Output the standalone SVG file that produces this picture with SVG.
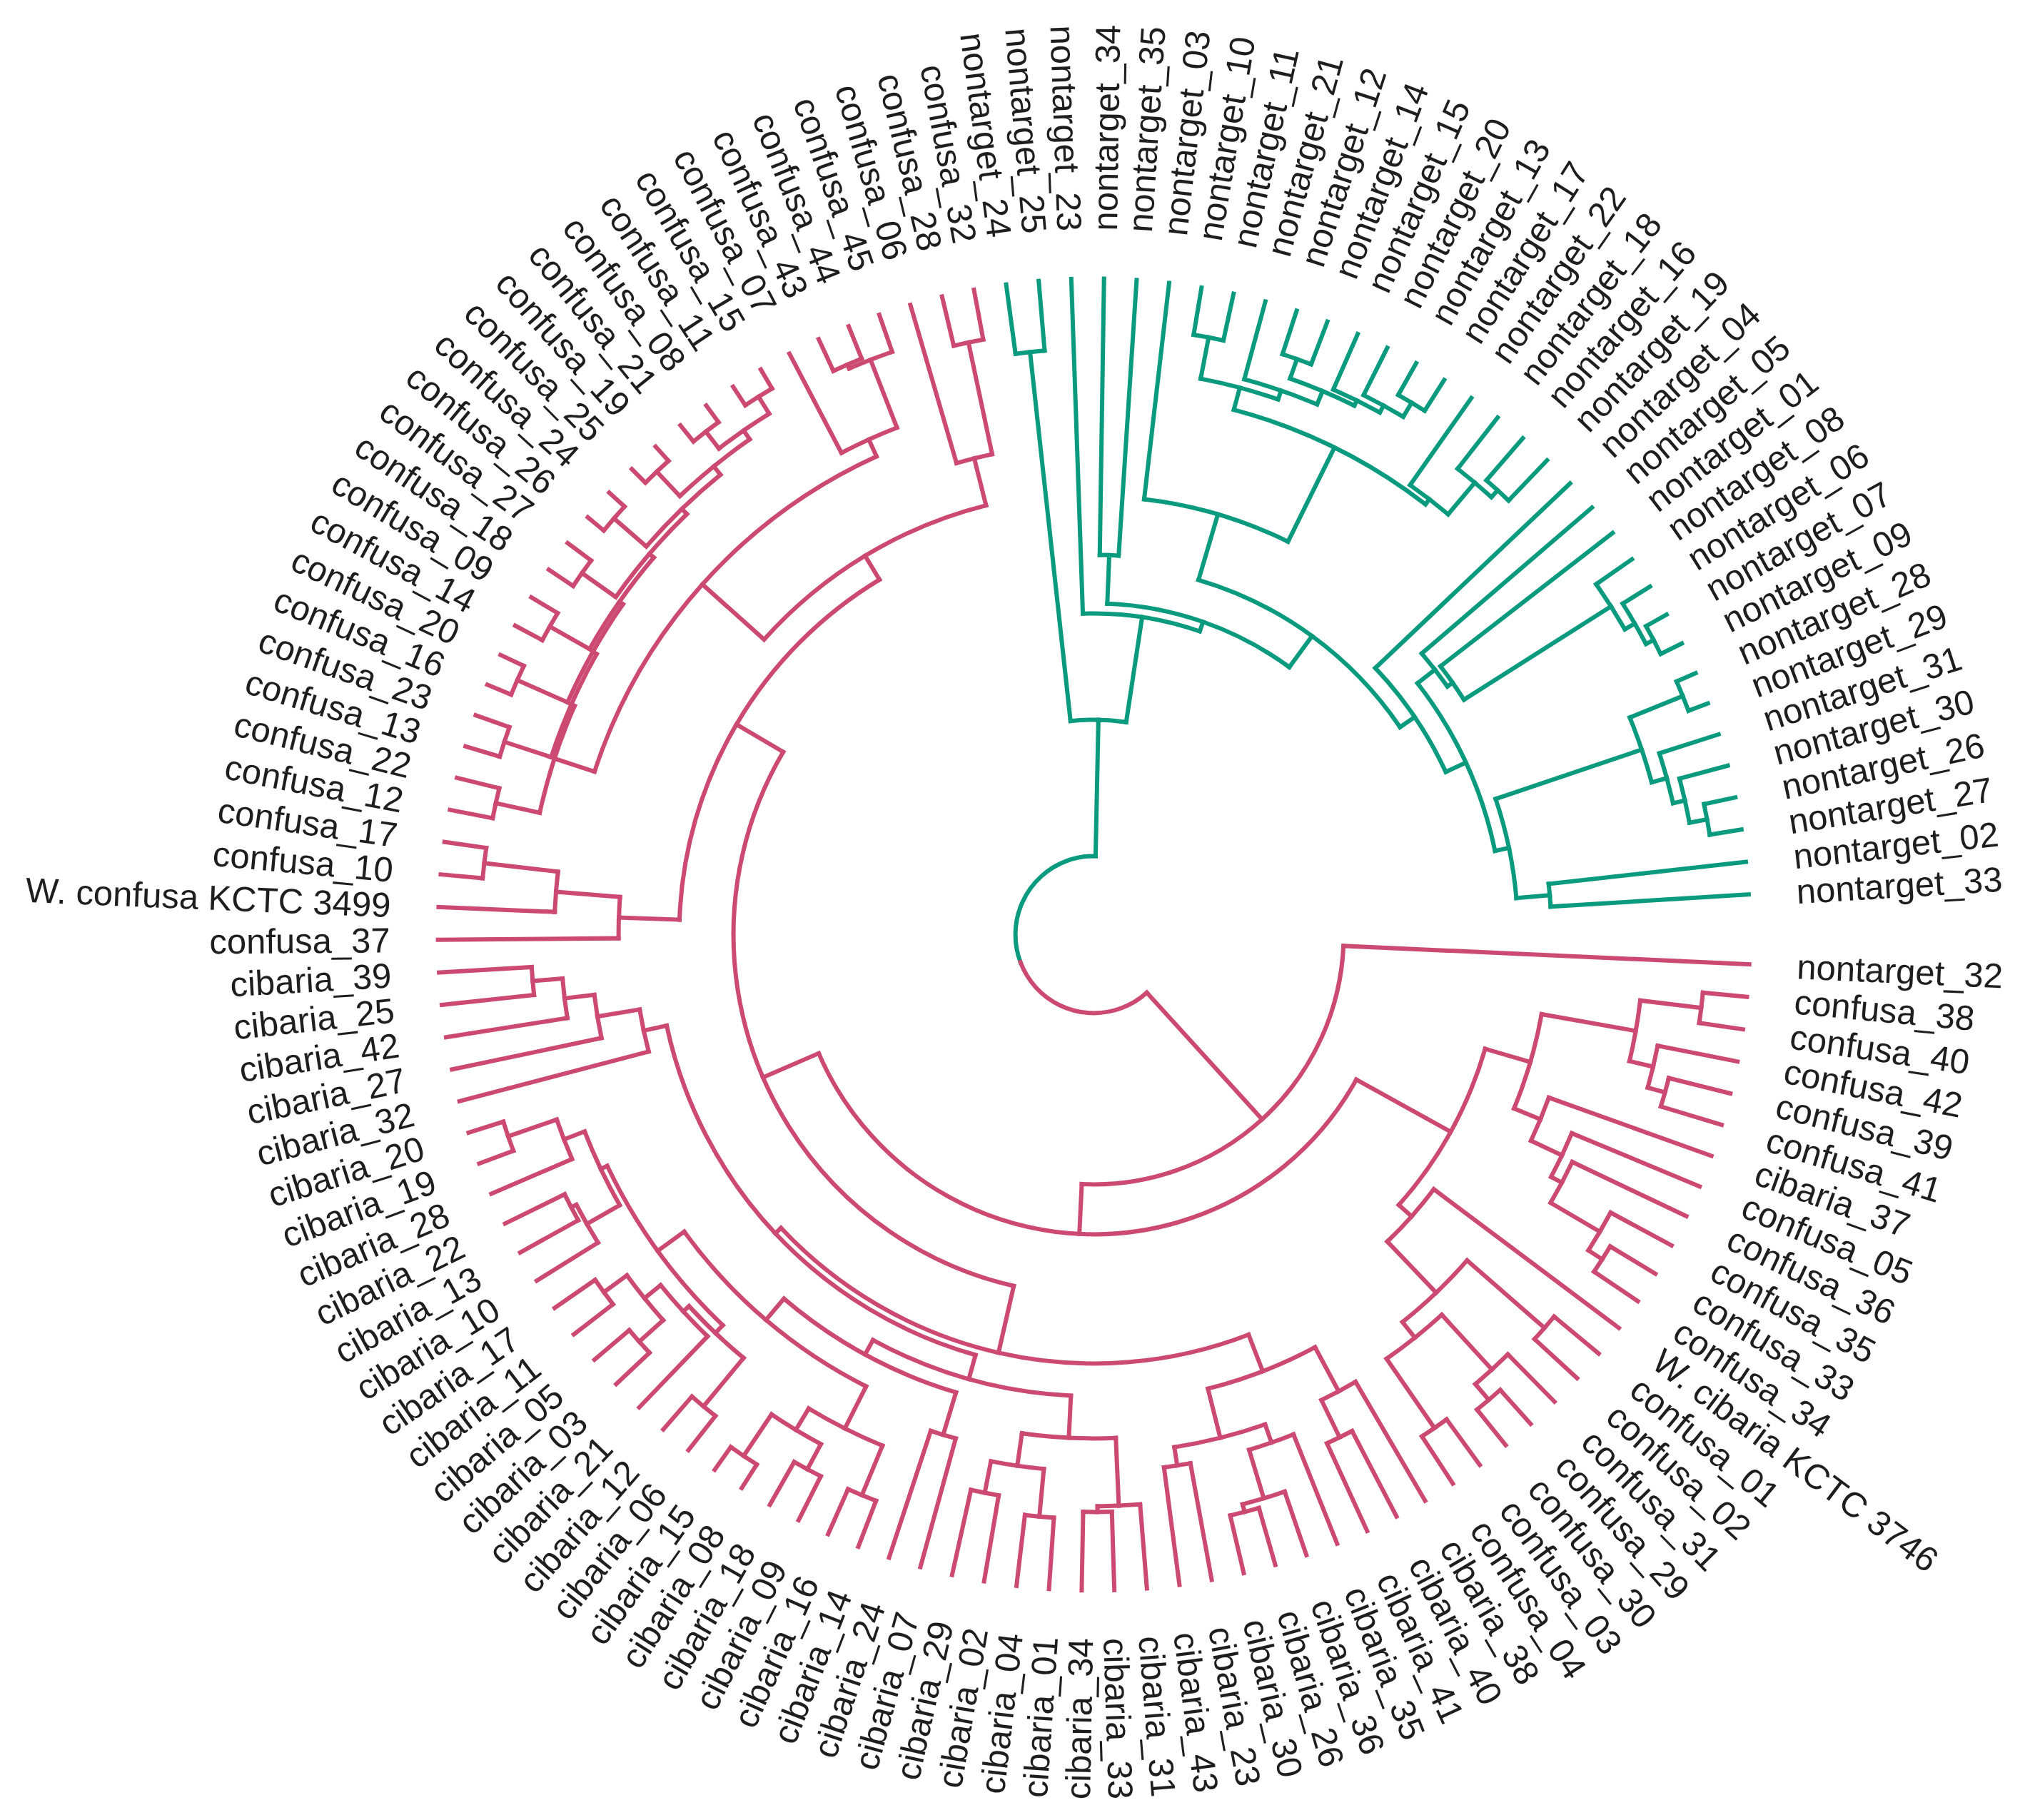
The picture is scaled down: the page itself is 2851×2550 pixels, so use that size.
<svg xmlns="http://www.w3.org/2000/svg" width="2851" height="2550" viewBox="0 0 2851 2550">
<style>
.e path,.e circle{fill:none;stroke-width:6;stroke-linecap:square}
.p path,.p circle{stroke:#CC4A72}
.g path,.g circle{stroke:#0A9A7E}
text{font-family:"Liberation Sans",Arial,sans-serif;font-size:49px;fill:#1e1e1e}
.f{text-anchor:end}
</style>
<rect width="2851" height="2550" fill="#fff"/>
<g id="connectors" class="e" transform="translate(1532.6 1309.4)">
<g class="g">
<circle r="110" pathLength="360" stroke-dasharray="111.75 999" transform="rotate(159.44)"/>
<path d="M110 0H301" transform="rotate(271.19)"/>
<circle r="301" pathLength="360" stroke-dasharray="14.89 999" transform="rotate(263.74)"/>
<path d="M301 0H821" transform="rotate(263.74)"/><path d="M301 0H450" transform="rotate(278.63)"/>
<circle r="821" pathLength="360" stroke-dasharray="2.86 999" transform="rotate(262.31)"/>
<path d="M821 0H919" transform="rotate(262.31)"/><path d="M821 0H919" transform="rotate(265.17)"/>
<circle r="450" pathLength="360" stroke-dasharray="21.21 999" transform="rotate(268.02)"/>
<path d="M450 0H919" transform="rotate(268.02)"/><path d="M450 0H464" transform="rotate(289.23)"/>
<circle r="464" pathLength="360" stroke-dasharray="33.84 999" transform="rotate(272.31)"/>
<path d="M464 0H532" transform="rotate(272.31)"/><path d="M464 0H518" transform="rotate(306.15)"/>
<circle r="532" pathLength="360" stroke-dasharray="2.85 999" transform="rotate(270.88)"/>
<path d="M532 0H919" transform="rotate(270.88)"/><path d="M532 0H919" transform="rotate(273.73)"/>
<circle r="518" pathLength="360" stroke-dasharray="39.44 999" transform="rotate(286.43)"/>
<path d="M518 0H614" transform="rotate(286.43)"/><path d="M518 0H543" transform="rotate(325.87)"/>
<circle r="614" pathLength="360" stroke-dasharray="19.7 999" transform="rotate(276.58)"/>
<path d="M614 0H919" transform="rotate(276.58)"/><path d="M614 0H761" transform="rotate(296.28)"/>
<circle r="761" pathLength="360" stroke-dasharray="22.69 999" transform="rotate(284.93)"/>
<path d="M761 0H793" transform="rotate(284.93)"/><path d="M761 0H770" transform="rotate(307.62)"/>
<circle r="793" pathLength="360" stroke-dasharray="8.12 999" transform="rotate(280.87)"/>
<path d="M793 0H852" transform="rotate(280.87)"/><path d="M793 0H806" transform="rotate(288.99)"/>
<circle r="852" pathLength="360" stroke-dasharray="2.85 999" transform="rotate(279.44)"/>
<path d="M852 0H919" transform="rotate(279.44)"/><path d="M852 0H919" transform="rotate(282.29)"/>
<circle r="806" pathLength="360" stroke-dasharray="7.67 999" transform="rotate(285.15)"/>
<path d="M806 0H919" transform="rotate(285.15)"/><path d="M806 0H826" transform="rotate(292.82)"/>
<circle r="826" pathLength="360" stroke-dasharray="6.78 999" transform="rotate(289.43)"/>
<path d="M826 0H855" transform="rotate(289.43)"/><path d="M826 0H834" transform="rotate(296.21)"/>
<circle r="855" pathLength="360" stroke-dasharray="2.85 999" transform="rotate(288)"/>
<path d="M855 0H919" transform="rotate(288)"/><path d="M855 0H919" transform="rotate(290.85)"/>
<circle r="834" pathLength="360" stroke-dasharray="4.99 999" transform="rotate(293.71)"/>
<path d="M834 0H919" transform="rotate(293.71)"/><path d="M834 0H845" transform="rotate(298.7)"/>
<circle r="845" pathLength="360" stroke-dasharray="4.29 999" transform="rotate(296.56)"/>
<path d="M845 0H919" transform="rotate(296.56)"/><path d="M845 0H868" transform="rotate(300.85)"/>
<circle r="868" pathLength="360" stroke-dasharray="2.85 999" transform="rotate(299.42)"/>
<path d="M868 0H919" transform="rotate(299.42)"/><path d="M868 0H919" transform="rotate(302.27)"/>
<circle r="770" pathLength="360" stroke-dasharray="5 999" transform="rotate(305.12)"/>
<path d="M770 0H919" transform="rotate(305.12)"/><path d="M770 0H828" transform="rotate(310.12)"/>
<circle r="828" pathLength="360" stroke-dasharray="4.28 999" transform="rotate(307.98)"/>
<path d="M828 0H919" transform="rotate(307.98)"/><path d="M828 0H841" transform="rotate(312.26)"/>
<circle r="841" pathLength="360" stroke-dasharray="2.86 999" transform="rotate(310.83)"/>
<path d="M841 0H919" transform="rotate(310.83)"/><path d="M841 0H919" transform="rotate(313.69)"/>
<circle r="543" pathLength="360" stroke-dasharray="18.65 999" transform="rotate(316.54)"/>
<path d="M543 0H919" transform="rotate(316.54)"/><path d="M543 0H574" transform="rotate(335.19)"/>
<circle r="574" pathLength="360" stroke-dasharray="26.05 999" transform="rotate(322.16)"/>
<path d="M574 0H605" transform="rotate(322.16)"/><path d="M574 0H594" transform="rotate(348.21)"/>
<circle r="605" pathLength="360" stroke-dasharray="5.54 999" transform="rotate(319.39)"/>
<path d="M605 0H919" transform="rotate(319.39)"/><path d="M605 0H614" transform="rotate(324.93)"/>
<circle r="614" pathLength="360" stroke-dasharray="5.35 999" transform="rotate(322.25)"/>
<path d="M614 0H919" transform="rotate(322.25)"/><path d="M614 0H858" transform="rotate(327.6)"/>
<circle r="858" pathLength="360" stroke-dasharray="5 999" transform="rotate(325.1)"/>
<path d="M858 0H919" transform="rotate(325.1)"/><path d="M858 0H874" transform="rotate(330.1)"/>
<circle r="874" pathLength="360" stroke-dasharray="4.28 999" transform="rotate(327.96)"/>
<path d="M874 0H919" transform="rotate(327.96)"/><path d="M874 0H886" transform="rotate(332.24)"/>
<circle r="886" pathLength="360" stroke-dasharray="2.85 999" transform="rotate(330.81)"/>
<path d="M886 0H919" transform="rotate(330.81)"/><path d="M886 0H919" transform="rotate(333.66)"/>
<circle r="594" pathLength="360" stroke-dasharray="13.73 999" transform="rotate(341.34)"/>
<path d="M594 0H810" transform="rotate(341.34)"/><path d="M594 0H641" transform="rotate(355.07)"/>
<circle r="810" pathLength="360" stroke-dasharray="6.78 999" transform="rotate(337.95)"/>
<path d="M810 0H890" transform="rotate(337.95)"/><path d="M810 0H832" transform="rotate(344.73)"/>
<circle r="890" pathLength="360" stroke-dasharray="2.85 999" transform="rotate(336.52)"/>
<path d="M890 0H919" transform="rotate(336.52)"/><path d="M890 0H919" transform="rotate(339.37)"/>
<circle r="832" pathLength="360" stroke-dasharray="4.99 999" transform="rotate(342.23)"/>
<path d="M832 0H919" transform="rotate(342.23)"/><path d="M832 0H849" transform="rotate(347.22)"/>
<circle r="849" pathLength="360" stroke-dasharray="4.28 999" transform="rotate(345.08)"/>
<path d="M849 0H919" transform="rotate(345.08)"/><path d="M849 0H874" transform="rotate(349.36)"/>
<circle r="874" pathLength="360" stroke-dasharray="2.86 999" transform="rotate(347.93)"/>
<path d="M874 0H919" transform="rotate(347.93)"/><path d="M874 0H919" transform="rotate(350.79)"/>
<circle r="641" pathLength="360" stroke-dasharray="2.86 999" transform="rotate(353.64)"/>
<path d="M641 0H919" transform="rotate(353.64)"/><path d="M641 0H919" transform="rotate(356.5)"/>
</g>
<g class="p">
<circle r="110" pathLength="360" stroke-dasharray="111.745 999" transform="rotate(47.695)"/>
<path d="M110 0H350" transform="rotate(47.695)"/>
<circle r="350" pathLength="360" stroke-dasharray="90.19 999" transform="rotate(2.6)"/>
<path d="M350 0H919" transform="rotate(2.6)"/><path d="M350 0H420" transform="rotate(92.79)"/>
<circle r="420" pathLength="360" stroke-dasharray="127.715 999" transform="rotate(28.935)"/>
<path d="M420 0H571" transform="rotate(28.935)"/><path d="M420 0H505" transform="rotate(156.65)"/>
<circle r="571" pathLength="360" stroke-dasharray="25.29 999" transform="rotate(16.29)"/>
<path d="M571 0H637" transform="rotate(16.29)"/><path d="M571 0H595" transform="rotate(41.58)"/>
<circle r="637" pathLength="360" stroke-dasharray="12.4 999" transform="rotate(10.09)"/>
<path d="M637 0H771" transform="rotate(10.09)"/><path d="M637 0H677" transform="rotate(22.49)"/>
<circle r="771" pathLength="360" stroke-dasharray="6.42 999" transform="rotate(6.88)"/>
<path d="M771 0H857" transform="rotate(6.88)"/><path d="M771 0H805" transform="rotate(13.3)"/>
<circle r="857" pathLength="360" stroke-dasharray="2.86 999" transform="rotate(5.45)"/>
<path d="M857 0H919" transform="rotate(5.45)"/><path d="M857 0H919" transform="rotate(8.31)"/>
<circle r="805" pathLength="360" stroke-dasharray="4.29 999" transform="rotate(11.16)"/>
<path d="M805 0H919" transform="rotate(11.16)"/><path d="M805 0H830" transform="rotate(15.45)"/>
<circle r="830" pathLength="360" stroke-dasharray="2.85 999" transform="rotate(14.02)"/>
<path d="M830 0H919" transform="rotate(14.02)"/><path d="M830 0H919" transform="rotate(16.87)"/>
<circle r="677" pathLength="360" stroke-dasharray="5.54 999" transform="rotate(19.72)"/>
<path d="M677 0H919" transform="rotate(19.72)"/><path d="M677 0H725" transform="rotate(25.26)"/>
<circle r="725" pathLength="360" stroke-dasharray="5.35 999" transform="rotate(22.58)"/>
<path d="M725 0H919" transform="rotate(22.58)"/><path d="M725 0H742" transform="rotate(27.93)"/>
<circle r="742" pathLength="360" stroke-dasharray="5 999" transform="rotate(25.43)"/>
<path d="M742 0H919" transform="rotate(25.43)"/><path d="M742 0H822" transform="rotate(30.43)"/>
<circle r="822" pathLength="360" stroke-dasharray="4.28 999" transform="rotate(28.29)"/>
<path d="M822 0H919" transform="rotate(28.29)"/><path d="M822 0H845" transform="rotate(32.57)"/>
<circle r="845" pathLength="360" stroke-dasharray="2.85 999" transform="rotate(31.14)"/>
<path d="M845 0H919" transform="rotate(31.14)"/><path d="M845 0H919" transform="rotate(33.99)"/>
<circle r="595" pathLength="360" stroke-dasharray="9.45 999" transform="rotate(36.85)"/>
<path d="M595 0H919" transform="rotate(36.85)"/><path d="M595 0H694" transform="rotate(46.3)"/>
<circle r="694" pathLength="360" stroke-dasharray="10.345 999" transform="rotate(41.13)"/>
<path d="M694 0H838" transform="rotate(41.13)"/><path d="M694 0H722" transform="rotate(51.475)"/>
<circle r="838" pathLength="360" stroke-dasharray="2.86 999" transform="rotate(39.7)"/>
<path d="M838 0H919" transform="rotate(39.7)"/><path d="M838 0H919" transform="rotate(42.56)"/>
<circle r="722" pathLength="360" stroke-dasharray="7.85 999" transform="rotate(47.55)"/>
<path d="M722 0H826" transform="rotate(47.55)"/><path d="M722 0H840" transform="rotate(55.4)"/>
<circle r="826" pathLength="360" stroke-dasharray="4.28 999" transform="rotate(45.41)"/>
<path d="M826 0H919" transform="rotate(45.41)"/><path d="M826 0H855" transform="rotate(49.69)"/>
<circle r="855" pathLength="360" stroke-dasharray="2.86 999" transform="rotate(48.26)"/>
<path d="M855 0H919" transform="rotate(48.26)"/><path d="M855 0H919" transform="rotate(51.12)"/>
<circle r="840" pathLength="360" stroke-dasharray="2.86 999" transform="rotate(53.97)"/>
<path d="M840 0H919" transform="rotate(53.97)"/><path d="M840 0H919" transform="rotate(56.83)"/>
<circle r="505" pathLength="360" stroke-dasharray="107.595 999" transform="rotate(102.855)"/>
<path d="M505 0H601" transform="rotate(102.855)"/><path d="M505 0H581" transform="rotate(210.45)"/>
<circle r="601" pathLength="360" stroke-dasharray="67.97 999" transform="rotate(68.87)"/>
<path d="M601 0H656" transform="rotate(68.87)"/><path d="M601 0H612" transform="rotate(136.84)"/>
<circle r="656" pathLength="360" stroke-dasharray="14.09 999" transform="rotate(61.82)"/>
<path d="M656 0H726" transform="rotate(61.82)"/><path d="M656 0H727" transform="rotate(75.91)"/>
<circle r="726" pathLength="360" stroke-dasharray="4.28 999" transform="rotate(59.68)"/>
<path d="M726 0H919" transform="rotate(59.68)"/><path d="M726 0H784" transform="rotate(63.96)"/>
<circle r="784" pathLength="360" stroke-dasharray="2.86 999" transform="rotate(62.53)"/>
<path d="M784 0H919" transform="rotate(62.53)"/><path d="M784 0H919" transform="rotate(65.39)"/>
<circle r="727" pathLength="360" stroke-dasharray="10.345 999" transform="rotate(70.74)"/>
<path d="M727 0H754" transform="rotate(70.74)"/><path d="M727 0H753" transform="rotate(81.085)"/>
<circle r="754" pathLength="360" stroke-dasharray="5 999" transform="rotate(68.24)"/>
<path d="M754 0H919" transform="rotate(68.24)"/><path d="M754 0H825" transform="rotate(73.24)"/>
<circle r="825" pathLength="360" stroke-dasharray="4.275 999" transform="rotate(71.1)"/>
<path d="M825 0H919" transform="rotate(71.1)"/><path d="M825 0H836" transform="rotate(75.375)"/>
<circle r="836" pathLength="360" stroke-dasharray="2.85 999" transform="rotate(73.95)"/>
<path d="M836 0H919" transform="rotate(73.95)"/><path d="M836 0H919" transform="rotate(76.8)"/>
<circle r="753" pathLength="360" stroke-dasharray="2.85 999" transform="rotate(79.66)"/>
<path d="M753 0H919" transform="rotate(79.66)"/><path d="M753 0H919" transform="rotate(82.51)"/>
<circle r="612" pathLength="360" stroke-dasharray="62.23 999" transform="rotate(105.725)"/>
<path d="M612 0H647" transform="rotate(105.725)"/><path d="M612 0H645" transform="rotate(167.955)"/>
<circle r="647" pathLength="360" stroke-dasharray="25.73 999" transform="rotate(92.86)"/>
<path d="M647 0H706" transform="rotate(92.86)"/><path d="M647 0H670" transform="rotate(118.59)"/>
<circle r="706" pathLength="360" stroke-dasharray="10.7 999" transform="rotate(87.51)"/>
<path d="M706 0H801" transform="rotate(87.51)"/><path d="M706 0H752" transform="rotate(98.21)"/>
<circle r="801" pathLength="360" stroke-dasharray="4.275 999" transform="rotate(85.37)"/>
<path d="M801 0H919" transform="rotate(85.37)"/><path d="M801 0H809" transform="rotate(89.645)"/>
<circle r="809" pathLength="360" stroke-dasharray="2.85 999" transform="rotate(88.22)"/>
<path d="M809 0H919" transform="rotate(88.22)"/><path d="M809 0H919" transform="rotate(91.07)"/>
<circle r="752" pathLength="360" stroke-dasharray="5.71 999" transform="rotate(95.355)"/>
<path d="M752 0H819" transform="rotate(95.355)"/><path d="M752 0H797" transform="rotate(101.065)"/>
<circle r="819" pathLength="360" stroke-dasharray="2.85 999" transform="rotate(93.93)"/>
<path d="M819 0H919" transform="rotate(93.93)"/><path d="M819 0H919" transform="rotate(96.78)"/>
<circle r="797" pathLength="360" stroke-dasharray="2.85 999" transform="rotate(99.64)"/>
<path d="M797 0H919" transform="rotate(99.64)"/><path d="M797 0H919" transform="rotate(102.49)"/>
<circle r="670" pathLength="360" stroke-dasharray="23.635 999" transform="rotate(106.77)"/>
<path d="M670 0H732" transform="rotate(106.77)"/><path d="M670 0H709" transform="rotate(130.405)"/>
<circle r="732" pathLength="360" stroke-dasharray="2.86 999" transform="rotate(105.34)"/>
<path d="M732 0H919" transform="rotate(105.34)"/><path d="M732 0H919" transform="rotate(108.2)"/>
<circle r="709" pathLength="360" stroke-dasharray="27.29 999" transform="rotate(116.76)"/>
<path d="M709 0H775" transform="rotate(116.76)"/><path d="M709 0H755" transform="rotate(144.05)"/>
<circle r="775" pathLength="360" stroke-dasharray="8.56 999" transform="rotate(112.48)"/>
<path d="M775 0H850" transform="rotate(112.48)"/><path d="M775 0H810" transform="rotate(121.04)"/>
<circle r="850" pathLength="360" stroke-dasharray="2.86 999" transform="rotate(111.05)"/>
<path d="M850 0H919" transform="rotate(111.05)"/><path d="M850 0H919" transform="rotate(113.91)"/>
<circle r="810" pathLength="360" stroke-dasharray="5.71 999" transform="rotate(118.185)"/>
<path d="M810 0H850" transform="rotate(118.185)"/><path d="M810 0H880" transform="rotate(123.895)"/>
<circle r="850" pathLength="360" stroke-dasharray="2.85 999" transform="rotate(116.76)"/>
<path d="M850 0H919" transform="rotate(116.76)"/><path d="M850 0H919" transform="rotate(119.61)"/>
<circle r="880" pathLength="360" stroke-dasharray="2.85 999" transform="rotate(122.47)"/>
<path d="M880 0H919" transform="rotate(122.47)"/><path d="M880 0H919" transform="rotate(125.32)"/>
<circle r="755" pathLength="360" stroke-dasharray="21.0475 999" transform="rotate(133.5275)"/>
<path d="M755 0H770" transform="rotate(133.5275)"/><path d="M755 0H765" transform="rotate(154.575)"/>
<circle r="770" pathLength="360" stroke-dasharray="7.845 999" transform="rotate(129.605)"/>
<path d="M770 0H858" transform="rotate(129.605)"/><path d="M770 0H781" transform="rotate(137.45)"/>
<circle r="858" pathLength="360" stroke-dasharray="2.85 999" transform="rotate(128.18)"/>
<path d="M858 0H919" transform="rotate(128.18)"/><path d="M858 0H919" transform="rotate(131.03)"/>
<circle r="781" pathLength="360" stroke-dasharray="7.14 999" transform="rotate(133.88)"/>
<path d="M781 0H919" transform="rotate(133.88)"/><path d="M781 0H810" transform="rotate(141.02)"/>
<circle r="810" pathLength="360" stroke-dasharray="5.71 999" transform="rotate(138.165)"/>
<path d="M810 0H855" transform="rotate(138.165)"/><path d="M810 0H850" transform="rotate(143.875)"/>
<circle r="855" pathLength="360" stroke-dasharray="2.85 999" transform="rotate(136.74)"/>
<path d="M855 0H919" transform="rotate(136.74)"/><path d="M855 0H919" transform="rotate(139.59)"/>
<circle r="850" pathLength="360" stroke-dasharray="2.85 999" transform="rotate(142.45)"/>
<path d="M850 0H919" transform="rotate(142.45)"/><path d="M850 0H919" transform="rotate(145.3)"/>
<circle r="765" pathLength="360" stroke-dasharray="8.57 999" transform="rotate(150.29)"/>
<path d="M765 0H818" transform="rotate(150.29)"/><path d="M765 0H796" transform="rotate(158.86)"/>
<circle r="818" pathLength="360" stroke-dasharray="4.285 999" transform="rotate(148.15)"/>
<path d="M818 0H919" transform="rotate(148.15)"/><path d="M818 0H826" transform="rotate(152.435)"/>
<circle r="826" pathLength="360" stroke-dasharray="2.85 999" transform="rotate(151.01)"/>
<path d="M826 0H919" transform="rotate(151.01)"/><path d="M826 0H919" transform="rotate(153.86)"/>
<circle r="796" pathLength="360" stroke-dasharray="4.275 999" transform="rotate(156.72)"/>
<path d="M796 0H919" transform="rotate(156.72)"/><path d="M796 0H868" transform="rotate(160.995)"/>
<circle r="868" pathLength="360" stroke-dasharray="2.85 999" transform="rotate(159.57)"/>
<path d="M868 0H919" transform="rotate(159.57)"/><path d="M868 0H919" transform="rotate(162.42)"/>
<circle r="645" pathLength="360" stroke-dasharray="5.35 999" transform="rotate(165.28)"/>
<path d="M645 0H919" transform="rotate(165.28)"/><path d="M645 0H705" transform="rotate(170.63)"/>
<circle r="705" pathLength="360" stroke-dasharray="5 999" transform="rotate(168.13)"/>
<path d="M705 0H919" transform="rotate(168.13)"/><path d="M705 0H747" transform="rotate(173.13)"/>
<circle r="747" pathLength="360" stroke-dasharray="4.275 999" transform="rotate(170.99)"/>
<path d="M747 0H919" transform="rotate(170.99)"/><path d="M747 0H789" transform="rotate(175.265)"/>
<circle r="789" pathLength="360" stroke-dasharray="2.85 999" transform="rotate(173.84)"/>
<path d="M789 0H919" transform="rotate(173.84)"/><path d="M789 0H919" transform="rotate(176.69)"/>
<circle r="581" pathLength="360" stroke-dasharray="56.81 999" transform="rotate(182.05)"/>
<path d="M581 0H666" transform="rotate(182.05)"/><path d="M581 0H620" transform="rotate(238.86)"/>
<circle r="666" pathLength="360" stroke-dasharray="4.99 999" transform="rotate(179.55)"/>
<path d="M666 0H919" transform="rotate(179.55)"/><path d="M666 0H756" transform="rotate(184.54)"/>
<circle r="756" pathLength="360" stroke-dasharray="4.285 999" transform="rotate(182.4)"/>
<path d="M756 0H919" transform="rotate(182.4)"/><path d="M756 0H860" transform="rotate(186.685)"/>
<circle r="860" pathLength="360" stroke-dasharray="2.85 999" transform="rotate(185.26)"/>
<path d="M860 0H919" transform="rotate(185.26)"/><path d="M860 0H919" transform="rotate(188.11)"/>
<circle r="620" pathLength="360" stroke-dasharray="34.08 999" transform="rotate(221.81)"/>
<path d="M620 0H736" transform="rotate(221.81)"/><path d="M620 0H688" transform="rotate(255.89)"/>
<circle r="736" pathLength="360" stroke-dasharray="47.475 999" transform="rotate(198.075)"/>
<path d="M736 0H795" transform="rotate(198.075)"/><path d="M736 0H762" transform="rotate(245.55)"/>
<circle r="795" pathLength="360" stroke-dasharray="11.37 999" transform="rotate(192.39)"/>
<path d="M795 0H858" transform="rotate(192.39)"/><path d="M795 0H800" transform="rotate(203.76)"/>
<circle r="858" pathLength="360" stroke-dasharray="2.86 999" transform="rotate(190.96)"/>
<path d="M858 0H919" transform="rotate(190.96)"/><path d="M858 0H919" transform="rotate(193.82)"/>
<circle r="800" pathLength="360" stroke-dasharray="11.33 999" transform="rotate(198.1)"/>
<path d="M800 0H869" transform="rotate(198.1)"/><path d="M800 0H806" transform="rotate(209.43)"/>
<circle r="869" pathLength="360" stroke-dasharray="2.86 999" transform="rotate(196.67)"/>
<path d="M869 0H919" transform="rotate(196.67)"/><path d="M869 0H919" transform="rotate(199.53)"/>
<circle r="806" pathLength="360" stroke-dasharray="11.245 999" transform="rotate(203.805)"/>
<path d="M806 0H883" transform="rotate(203.805)"/><path d="M806 0H812" transform="rotate(215.05)"/>
<circle r="883" pathLength="360" stroke-dasharray="2.85 999" transform="rotate(202.38)"/>
<path d="M883 0H919" transform="rotate(202.38)"/><path d="M883 0H919" transform="rotate(205.23)"/>
<circle r="812" pathLength="360" stroke-dasharray="11.065 999" transform="rotate(209.515)"/>
<path d="M812 0H876" transform="rotate(209.515)"/><path d="M812 0H820" transform="rotate(220.58)"/>
<circle r="876" pathLength="360" stroke-dasharray="2.85 999" transform="rotate(208.09)"/>
<path d="M876 0H919" transform="rotate(208.09)"/><path d="M876 0H919" transform="rotate(210.94)"/>
<circle r="820" pathLength="360" stroke-dasharray="10.705 999" transform="rotate(215.225)"/>
<path d="M820 0H878" transform="rotate(215.225)"/><path d="M820 0H830" transform="rotate(225.93)"/>
<circle r="878" pathLength="360" stroke-dasharray="2.85 999" transform="rotate(213.8)"/>
<path d="M878 0H919" transform="rotate(213.8)"/><path d="M878 0H919" transform="rotate(216.65)"/>
<circle r="830" pathLength="360" stroke-dasharray="9.99 999" transform="rotate(220.93)"/>
<path d="M830 0H890" transform="rotate(220.93)"/><path d="M830 0H845" transform="rotate(230.92)"/>
<circle r="890" pathLength="360" stroke-dasharray="2.86 999" transform="rotate(219.5)"/>
<path d="M890 0H919" transform="rotate(219.5)"/><path d="M890 0H919" transform="rotate(222.36)"/>
<circle r="845" pathLength="360" stroke-dasharray="8.56 999" transform="rotate(226.64)"/>
<path d="M845 0H892" transform="rotate(226.64)"/><path d="M845 0H860" transform="rotate(235.2)"/>
<circle r="892" pathLength="360" stroke-dasharray="2.86 999" transform="rotate(225.21)"/>
<path d="M892 0H919" transform="rotate(225.21)"/><path d="M892 0H919" transform="rotate(228.07)"/>
<circle r="860" pathLength="360" stroke-dasharray="5.71 999" transform="rotate(232.345)"/>
<path d="M860 0H890" transform="rotate(232.345)"/><path d="M860 0H888" transform="rotate(238.055)"/>
<circle r="890" pathLength="360" stroke-dasharray="2.85 999" transform="rotate(230.92)"/>
<path d="M890 0H919" transform="rotate(230.92)"/><path d="M890 0H919" transform="rotate(233.77)"/>
<circle r="888" pathLength="360" stroke-dasharray="2.85 999" transform="rotate(236.63)"/>
<path d="M888 0H919" transform="rotate(236.63)"/><path d="M888 0H919" transform="rotate(239.48)"/>
<circle r="762" pathLength="360" stroke-dasharray="6.42 999" transform="rotate(242.34)"/>
<path d="M762 0H919" transform="rotate(242.34)"/><path d="M762 0H864" transform="rotate(248.76)"/>
<circle r="864" pathLength="360" stroke-dasharray="4.285 999" transform="rotate(246.615)"/>
<path d="M864 0H870" transform="rotate(246.615)"/><path d="M864 0H919" transform="rotate(250.9)"/>
<circle r="870" pathLength="360" stroke-dasharray="2.85 999" transform="rotate(245.19)"/>
<path d="M870 0H919" transform="rotate(245.19)"/><path d="M870 0H919" transform="rotate(248.04)"/>
<circle r="688" pathLength="360" stroke-dasharray="4.285 999" transform="rotate(253.75)"/>
<path d="M688 0H919" transform="rotate(253.75)"/><path d="M688 0H848" transform="rotate(258.035)"/>
<circle r="848" pathLength="360" stroke-dasharray="2.85 999" transform="rotate(256.61)"/>
<path d="M848 0H919" transform="rotate(256.61)"/><path d="M848 0H919" transform="rotate(259.46)"/>
</g>
</g>
<g id="labels" transform="translate(1532.6 1309.4)">
<g id="nontarget_32"><text transform="rotate(2.6)" x="986" dy=".35em">nontarget_32</text></g>
<g id="confusa_38"><text transform="rotate(5.45)" x="986" dy=".35em">confusa_38</text></g>
<g id="confusa_40"><text transform="rotate(8.31)" x="986" dy=".35em">confusa_40</text></g>
<g id="confusa_42"><text transform="rotate(11.16)" x="986" dy=".35em">confusa_42</text></g>
<g id="confusa_39"><text transform="rotate(14.02)" x="986" dy=".35em">confusa_39</text></g>
<g id="confusa_41"><text transform="rotate(16.87)" x="986" dy=".35em">confusa_41</text></g>
<g id="cibaria_37"><text transform="rotate(19.72)" x="986" dy=".35em">cibaria_37</text></g>
<g id="confusa_05"><text transform="rotate(22.58)" x="986" dy=".35em">confusa_05</text></g>
<g id="confusa_36"><text transform="rotate(25.43)" x="986" dy=".35em">confusa_36</text></g>
<g id="confusa_35"><text transform="rotate(28.29)" x="986" dy=".35em">confusa_35</text></g>
<g id="confusa_33"><text transform="rotate(31.14)" x="986" dy=".35em">confusa_33</text></g>
<g id="confusa_34"><text transform="rotate(33.99)" x="986" dy=".35em">confusa_34</text></g>
<g id="W_cibaria_KCTC_3746"><text transform="rotate(36.85)" x="986" dy=".35em">W. cibaria KCTC 3746</text></g>
<g id="confusa_01"><text transform="rotate(39.7)" x="986" dy=".35em">confusa_01</text></g>
<g id="confusa_02"><text transform="rotate(42.56)" x="986" dy=".35em">confusa_02</text></g>
<g id="confusa_31"><text transform="rotate(45.41)" x="986" dy=".35em">confusa_31</text></g>
<g id="confusa_29"><text transform="rotate(48.26)" x="986" dy=".35em">confusa_29</text></g>
<g id="confusa_30"><text transform="rotate(51.12)" x="986" dy=".35em">confusa_30</text></g>
<g id="confusa_03"><text transform="rotate(53.97)" x="986" dy=".35em">confusa_03</text></g>
<g id="confusa_04"><text transform="rotate(56.83)" x="986" dy=".35em">confusa_04</text></g>
<g id="cibaria_38"><text transform="rotate(59.68)" x="986" dy=".35em">cibaria_38</text></g>
<g id="cibaria_40"><text transform="rotate(62.53)" x="986" dy=".35em">cibaria_40</text></g>
<g id="cibaria_41"><text transform="rotate(65.39)" x="986" dy=".35em">cibaria_41</text></g>
<g id="cibaria_35"><text transform="rotate(68.24)" x="986" dy=".35em">cibaria_35</text></g>
<g id="cibaria_36"><text transform="rotate(71.1)" x="986" dy=".35em">cibaria_36</text></g>
<g id="cibaria_26"><text transform="rotate(73.95)" x="986" dy=".35em">cibaria_26</text></g>
<g id="cibaria_30"><text transform="rotate(76.8)" x="986" dy=".35em">cibaria_30</text></g>
<g id="cibaria_23"><text transform="rotate(79.66)" x="986" dy=".35em">cibaria_23</text></g>
<g id="cibaria_43"><text transform="rotate(82.51)" x="986" dy=".35em">cibaria_43</text></g>
<g id="cibaria_31"><text transform="rotate(85.37)" x="986" dy=".35em">cibaria_31</text></g>
<g id="cibaria_33"><text transform="rotate(88.22)" x="986" dy=".35em">cibaria_33</text></g>
<g id="cibaria_34"><text class="f" transform="rotate(-88.93)" x="-986" dy=".35em">cibaria_34</text></g>
<g id="cibaria_01"><text class="f" transform="rotate(-86.07)" x="-986" dy=".35em">cibaria_01</text></g>
<g id="cibaria_04"><text class="f" transform="rotate(-83.22)" x="-986" dy=".35em">cibaria_04</text></g>
<g id="cibaria_02"><text class="f" transform="rotate(-80.36)" x="-986" dy=".35em">cibaria_02</text></g>
<g id="cibaria_29"><text class="f" transform="rotate(-77.51)" x="-986" dy=".35em">cibaria_29</text></g>
<g id="cibaria_07"><text class="f" transform="rotate(-74.66)" x="-986" dy=".35em">cibaria_07</text></g>
<g id="cibaria_24"><text class="f" transform="rotate(-71.8)" x="-986" dy=".35em">cibaria_24</text></g>
<g id="cibaria_14"><text class="f" transform="rotate(-68.95)" x="-986" dy=".35em">cibaria_14</text></g>
<g id="cibaria_16"><text class="f" transform="rotate(-66.09)" x="-986" dy=".35em">cibaria_16</text></g>
<g id="cibaria_09"><text class="f" transform="rotate(-63.24)" x="-986" dy=".35em">cibaria_09</text></g>
<g id="cibaria_18"><text class="f" transform="rotate(-60.39)" x="-986" dy=".35em">cibaria_18</text></g>
<g id="cibaria_08"><text class="f" transform="rotate(-57.53)" x="-986" dy=".35em">cibaria_08</text></g>
<g id="cibaria_15"><text class="f" transform="rotate(-54.68)" x="-986" dy=".35em">cibaria_15</text></g>
<g id="cibaria_06"><text class="f" transform="rotate(-51.82)" x="-986" dy=".35em">cibaria_06</text></g>
<g id="cibaria_12"><text class="f" transform="rotate(-48.97)" x="-986" dy=".35em">cibaria_12</text></g>
<g id="cibaria_21"><text class="f" transform="rotate(-46.12)" x="-986" dy=".35em">cibaria_21</text></g>
<g id="cibaria_03"><text class="f" transform="rotate(-43.26)" x="-986" dy=".35em">cibaria_03</text></g>
<g id="cibaria_05"><text class="f" transform="rotate(-40.41)" x="-986" dy=".35em">cibaria_05</text></g>
<g id="cibaria_11"><text class="f" transform="rotate(-37.55)" x="-986" dy=".35em">cibaria_11</text></g>
<g id="cibaria_17"><text class="f" transform="rotate(-34.7)" x="-986" dy=".35em">cibaria_17</text></g>
<g id="cibaria_10"><text class="f" transform="rotate(-31.85)" x="-986" dy=".35em">cibaria_10</text></g>
<g id="cibaria_13"><text class="f" transform="rotate(-28.99)" x="-986" dy=".35em">cibaria_13</text></g>
<g id="cibaria_22"><text class="f" transform="rotate(-26.14)" x="-986" dy=".35em">cibaria_22</text></g>
<g id="cibaria_28"><text class="f" transform="rotate(-23.28)" x="-986" dy=".35em">cibaria_28</text></g>
<g id="cibaria_19"><text class="f" transform="rotate(-20.43)" x="-986" dy=".35em">cibaria_19</text></g>
<g id="cibaria_20"><text class="f" transform="rotate(-17.58)" x="-986" dy=".35em">cibaria_20</text></g>
<g id="cibaria_32"><text class="f" transform="rotate(-14.72)" x="-986" dy=".35em">cibaria_32</text></g>
<g id="cibaria_27"><text class="f" transform="rotate(-11.87)" x="-986" dy=".35em">cibaria_27</text></g>
<g id="cibaria_42"><text class="f" transform="rotate(-9.01)" x="-986" dy=".35em">cibaria_42</text></g>
<g id="cibaria_25"><text class="f" transform="rotate(-6.16)" x="-986" dy=".35em">cibaria_25</text></g>
<g id="cibaria_39"><text class="f" transform="rotate(-3.31)" x="-986" dy=".35em">cibaria_39</text></g>
<g id="confusa_37"><text class="f" transform="rotate(-0.45)" x="-986" dy=".35em">confusa_37</text></g>
<g id="W_confusa_KCTC_3499"><text class="f" transform="rotate(2.4)" x="-986" dy=".35em">W. confusa KCTC 3499</text></g>
<g id="confusa_10"><text class="f" transform="rotate(5.26)" x="-986" dy=".35em">confusa_10</text></g>
<g id="confusa_17"><text class="f" transform="rotate(8.11)" x="-986" dy=".35em">confusa_17</text></g>
<g id="confusa_12"><text class="f" transform="rotate(10.96)" x="-986" dy=".35em">confusa_12</text></g>
<g id="confusa_22"><text class="f" transform="rotate(13.82)" x="-986" dy=".35em">confusa_22</text></g>
<g id="confusa_13"><text class="f" transform="rotate(16.67)" x="-986" dy=".35em">confusa_13</text></g>
<g id="confusa_23"><text class="f" transform="rotate(19.53)" x="-986" dy=".35em">confusa_23</text></g>
<g id="confusa_16"><text class="f" transform="rotate(22.38)" x="-986" dy=".35em">confusa_16</text></g>
<g id="confusa_20"><text class="f" transform="rotate(25.23)" x="-986" dy=".35em">confusa_20</text></g>
<g id="confusa_14"><text class="f" transform="rotate(28.09)" x="-986" dy=".35em">confusa_14</text></g>
<g id="confusa_09"><text class="f" transform="rotate(30.94)" x="-986" dy=".35em">confusa_09</text></g>
<g id="confusa_18"><text class="f" transform="rotate(33.8)" x="-986" dy=".35em">confusa_18</text></g>
<g id="confusa_27"><text class="f" transform="rotate(36.65)" x="-986" dy=".35em">confusa_27</text></g>
<g id="confusa_26"><text class="f" transform="rotate(39.5)" x="-986" dy=".35em">confusa_26</text></g>
<g id="confusa_24"><text class="f" transform="rotate(42.36)" x="-986" dy=".35em">confusa_24</text></g>
<g id="confusa_25"><text class="f" transform="rotate(45.21)" x="-986" dy=".35em">confusa_25</text></g>
<g id="confusa_19"><text class="f" transform="rotate(48.07)" x="-986" dy=".35em">confusa_19</text></g>
<g id="confusa_21"><text class="f" transform="rotate(50.92)" x="-986" dy=".35em">confusa_21</text></g>
<g id="confusa_08"><text class="f" transform="rotate(53.77)" x="-986" dy=".35em">confusa_08</text></g>
<g id="confusa_11"><text class="f" transform="rotate(56.63)" x="-986" dy=".35em">confusa_11</text></g>
<g id="confusa_15"><text class="f" transform="rotate(59.48)" x="-986" dy=".35em">confusa_15</text></g>
<g id="confusa_07"><text class="f" transform="rotate(62.34)" x="-986" dy=".35em">confusa_07</text></g>
<g id="confusa_43"><text class="f" transform="rotate(65.19)" x="-986" dy=".35em">confusa_43</text></g>
<g id="confusa_44"><text class="f" transform="rotate(68.04)" x="-986" dy=".35em">confusa_44</text></g>
<g id="confusa_45"><text class="f" transform="rotate(70.9)" x="-986" dy=".35em">confusa_45</text></g>
<g id="confusa_06"><text class="f" transform="rotate(73.75)" x="-986" dy=".35em">confusa_06</text></g>
<g id="confusa_28"><text class="f" transform="rotate(76.61)" x="-986" dy=".35em">confusa_28</text></g>
<g id="confusa_32"><text class="f" transform="rotate(79.46)" x="-986" dy=".35em">confusa_32</text></g>
<g id="nontarget_24"><text class="f" transform="rotate(82.31)" x="-986" dy=".35em">nontarget_24</text></g>
<g id="nontarget_25"><text class="f" transform="rotate(85.17)" x="-986" dy=".35em">nontarget_25</text></g>
<g id="nontarget_23"><text class="f" transform="rotate(88.02)" x="-986" dy=".35em">nontarget_23</text></g>
<g id="nontarget_34"><text transform="rotate(270.88)" x="986" dy=".35em">nontarget_34</text></g>
<g id="nontarget_35"><text transform="rotate(273.73)" x="986" dy=".35em">nontarget_35</text></g>
<g id="nontarget_03"><text transform="rotate(276.58)" x="986" dy=".35em">nontarget_03</text></g>
<g id="nontarget_10"><text transform="rotate(279.44)" x="986" dy=".35em">nontarget_10</text></g>
<g id="nontarget_11"><text transform="rotate(282.29)" x="986" dy=".35em">nontarget_11</text></g>
<g id="nontarget_21"><text transform="rotate(285.15)" x="986" dy=".35em">nontarget_21</text></g>
<g id="nontarget_12"><text transform="rotate(288)" x="986" dy=".35em">nontarget_12</text></g>
<g id="nontarget_14"><text transform="rotate(290.85)" x="986" dy=".35em">nontarget_14</text></g>
<g id="nontarget_15"><text transform="rotate(293.71)" x="986" dy=".35em">nontarget_15</text></g>
<g id="nontarget_20"><text transform="rotate(296.56)" x="986" dy=".35em">nontarget_20</text></g>
<g id="nontarget_13"><text transform="rotate(299.42)" x="986" dy=".35em">nontarget_13</text></g>
<g id="nontarget_17"><text transform="rotate(302.27)" x="986" dy=".35em">nontarget_17</text></g>
<g id="nontarget_22"><text transform="rotate(305.12)" x="986" dy=".35em">nontarget_22</text></g>
<g id="nontarget_18"><text transform="rotate(307.98)" x="986" dy=".35em">nontarget_18</text></g>
<g id="nontarget_16"><text transform="rotate(310.83)" x="986" dy=".35em">nontarget_16</text></g>
<g id="nontarget_19"><text transform="rotate(313.69)" x="986" dy=".35em">nontarget_19</text></g>
<g id="nontarget_04"><text transform="rotate(316.54)" x="986" dy=".35em">nontarget_04</text></g>
<g id="nontarget_05"><text transform="rotate(319.39)" x="986" dy=".35em">nontarget_05</text></g>
<g id="nontarget_01"><text transform="rotate(322.25)" x="986" dy=".35em">nontarget_01</text></g>
<g id="nontarget_08"><text transform="rotate(325.1)" x="986" dy=".35em">nontarget_08</text></g>
<g id="nontarget_06"><text transform="rotate(327.96)" x="986" dy=".35em">nontarget_06</text></g>
<g id="nontarget_07"><text transform="rotate(330.81)" x="986" dy=".35em">nontarget_07</text></g>
<g id="nontarget_09"><text transform="rotate(333.66)" x="986" dy=".35em">nontarget_09</text></g>
<g id="nontarget_28"><text transform="rotate(336.52)" x="986" dy=".35em">nontarget_28</text></g>
<g id="nontarget_29"><text transform="rotate(339.37)" x="986" dy=".35em">nontarget_29</text></g>
<g id="nontarget_31"><text transform="rotate(342.23)" x="986" dy=".35em">nontarget_31</text></g>
<g id="nontarget_30"><text transform="rotate(345.08)" x="986" dy=".35em">nontarget_30</text></g>
<g id="nontarget_26"><text transform="rotate(347.93)" x="986" dy=".35em">nontarget_26</text></g>
<g id="nontarget_27"><text transform="rotate(350.79)" x="986" dy=".35em">nontarget_27</text></g>
<g id="nontarget_02"><text transform="rotate(353.64)" x="986" dy=".35em">nontarget_02</text></g>
<g id="nontarget_33"><text transform="rotate(356.5)" x="986" dy=".35em">nontarget_33</text></g>
</g>
</svg>
